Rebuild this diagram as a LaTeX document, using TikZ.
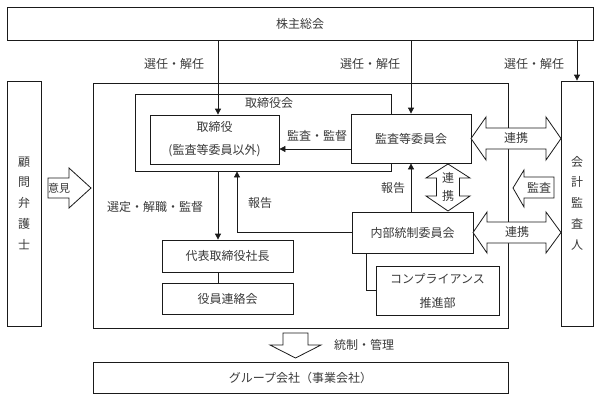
\documentclass[tikz,border=0pt]{standalone}
\usepackage{fontspec}
\setmainfont{Noto Sans CJK JP}
\usetikzlibrary{arrows.meta,calc}
\definecolor{linec}{HTML}{1A1A1A}
\definecolor{txt}{HTML}{3A3A3A}
\tikzset{
  box/.style={draw=linec, line width=0.8pt, fill=white, inner sep=0pt, text=txt, font=\fontsize{12}{14}\selectfont},
  lab/.style={inner sep=0pt, text=txt, font=\fontsize{12}{14}\selectfont},
  arr/.style={draw=linec, line width=0.8pt, -{Triangle[length=6pt,width=6pt]}},
  ln/.style={draw=linec, line width=0.8pt},
  blk/.style={draw=linec, line width=0.8pt, fill=white, line join=miter}
}
\begin{document}
\begin{tikzpicture}[x=1pt,y=-1pt]
\useasboundingbox (0,0) rectangle (600,400);
% boxes
\node[box, minimum width=586pt, minimum height=33pt] (gm) at (300,23.5) {株主総会};
\node[box, minimum width=34pt, minimum height=245pt] (law) at (24,203.5) {};
\node[lab, align=center, font=\fontsize{12}{20.8}\selectfont] (lawt) at (24,203) {顧\\問\\弁\\護\\士};
\node[box, minimum width=32pt, minimum height=245pt] (acc) at (577,203.5) {};
\node[lab, align=center, font=\fontsize{12}{20.8}\selectfont] (acct) at (577,203) {会\\計\\監\\査\\人};
\node[box, minimum width=415pt, minimum height=245pt] (main) at (300.5,205.5) {};
\node[box, minimum width=256pt, minimum height=77pt] (board) at (263,132.5) {};
\node[lab] (boardt) at (269,103) {取締役会};
\node[box, minimum width=129pt, minimum height=49pt, align=center, font=\fontsize{12}{23}\selectfont] (dir) at (214.5,139.5) {取締役\\(監査等委員以外)};
\node[box, minimum width=120pt, minimum height=49pt] (aud) at (411,138.5) {監査等委員会};
\node[box, minimum width=121pt, minimum height=41pt] (ic) at (412.5,232.5) {内部統制委員会};
\node[box, minimum width=123pt, minimum height=49pt, align=center, font=\fontsize{12}{24}\selectfont] (comp) at (437.5,290.5) {コンプライアンス\\推進部};
\node[box, minimum width=131pt, minimum height=32pt] (pres) at (227.5,256) {代表取締役社長};
\node[box, minimum width=131pt, minimum height=31pt] (liai) at (227.5,298.5) {役員連絡会};
\node[box, minimum width=415pt, minimum height=31pt] (grp) at (300.5,377.5) {グループ会社（事業会社）};
% coordinates
\coordinate (xa) at (218,0);
\coordinate (xb) at (237,0);
\coordinate (xc) at (366,0);
\coordinate (ya) at (0,149);
% connectors
\draw[arr] (gm.south -| xa) -- (dir.north -| xa);
\draw[arr] (gm.south -| aud.north) -- (aud.north);
\draw[arr] (gm.south -| acc.north) -- (acc.north);
\draw[arr] (aud.west |- ya) -- (dir.east |- ya);
\draw[arr] (board.south -| xa) -- (pres.north -| xa);
\draw[ln] (pres.south -| xa) -- (liai.north -| xa);
\draw[arr] (ic.west) -| (board.south -| xb);
\draw[arr] (ic.north -| aud.south) -- (aud.south);
\draw[ln] (ic.south -| xc) |- (comp.west);
% labels
\node[lab] (l1) at (174,64) {選任・解任};
\node[lab] (l2) at (370,64) {選任・解任};
\node[lab] (l3) at (534,64) {選任・解任};
\node[lab] (l4) at (317,136) {監査・監督};
\node[lab] (l5) at (155,207) {選定・解職・監督};
\node[lab] (l6) at (260,203) {報告};
\node[lab] (l7) at (393,188) {報告};
\node[lab] (l8) at (364,345) {統制・管理};
% block arrows
\draw[blk] (471,138.5) -- (486,117) -- (486,128) -- (546,128) -- (546,117) -- (561,138.5) -- (546,160) -- (546,149) -- (486,149) -- (486,160) -- cycle;
\node[lab] (r1) at (516,138) {連携};
\draw[blk] (473,232.5) -- (487,212) -- (487,222) -- (546,222) -- (546,212) -- (561,232.5) -- (546,253) -- (546,243) -- (487,243) -- (487,253) -- cycle;
\node[lab] (r2) at (517,232) {連携};
\draw[blk] (448,164) -- (470,178) -- (459.5,178) -- (459.5,196) -- (470,196) -- (448,211) -- (426,196) -- (436.5,196) -- (436.5,178) -- (426,178) -- cycle;
\node[lab, align=center, font=\fontsize{12}{18}\selectfont] (r3) at (448,187) {連\\携};
\draw[blk] (513,188) -- (524,170) -- (524,177) -- (554,177) -- (554,198) -- (524,198) -- (524,207) -- cycle;
\node[lab] (r4) at (539,188) {監査};
\draw[blk] (48,178) -- (69,178) -- (69,168) -- (91,188) -- (69,208) -- (69,198) -- (48,198) -- cycle;
\node[lab, font=\fontsize{11}{12}\selectfont] (r5) at (59,188) {意見};
\draw[blk] (283,333) -- (308,333) -- (308,345) -- (321,345) -- (295.5,358) -- (270,345) -- (283,345) -- cycle;
\end{tikzpicture}
\end{document}
